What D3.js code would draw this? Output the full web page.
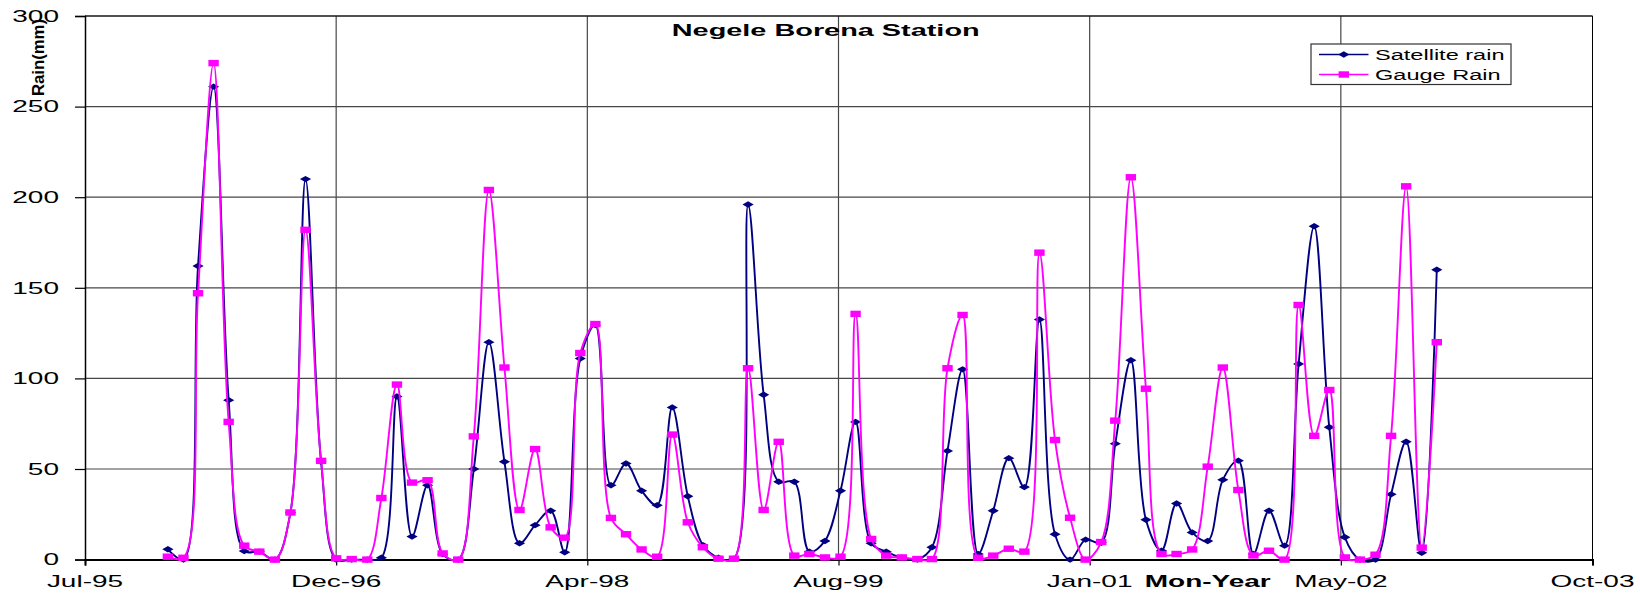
<!DOCTYPE html>
<html>
<head>
<meta charset="utf-8">
<script src="https://cdn.jsdelivr.net/npm/d3@7"></script>
<style>
  html, body { margin: 0; padding: 0; background: #ffffff; }
  svg { display: block; }
  text { font-family: "Liberation Sans", Arial, sans-serif; fill: #000; }
</style>
</head>
<body>
<svg id="chart" width="1640" height="593"></svg>
<script>
// Monthly rainfall, Negele Borena station (mm)
const months = [
  "1996-01","1996-02","1996-03","1996-04","1996-05","1996-06","1996-07","1996-08","1996-09","1996-10","1996-11","1996-12",
  "1997-01","1997-02","1997-03","1997-04","1997-05","1997-06","1997-07","1997-08","1997-09","1997-10","1997-11","1997-12",
  "1998-01","1998-02","1998-03","1998-04","1998-05","1998-06","1998-07","1998-08","1998-09","1998-10","1998-11","1998-12",
  "1999-01","1999-02","1999-03","1999-04","1999-05","1999-06","1999-07","1999-08","1999-09","1999-10","1999-11","1999-12",
  "2000-01","2000-02","2000-03","2000-04","2000-05","2000-06","2000-07","2000-08","2000-09","2000-10","2000-11","2000-12",
  "2001-01","2001-02","2001-03","2001-04","2001-05","2001-06","2001-07","2001-08","2001-09","2001-10","2001-11","2001-12",
  "2002-01","2002-02","2002-03","2002-04","2002-05","2002-06","2002-07","2002-08","2002-09","2002-10","2002-11","2002-12"
];

const satelliteRain = [
  5.7, 0, 162, 261, 88, 4.7, 4.4, 0, 26, 210, 54, 0,
  0, 0, 1, 90, 12.7, 41, 3, 0, 50, 120, 54, 9,
  19, 27, 4, 111, 129.5, 41, 53, 38, 30, 84, 35, 8,
  1, 0.5, 196, 91, 43, 43, 4.4, 10.3, 38, 76, 9, 4.4,
  1, 0, 6.8, 60, 105, 3.1, 27, 56, 40, 132.5, 14, 0,
  11, 9.3, 64, 110, 22, 4.9, 31, 15, 10.3, 44, 54.6, 3.1,
  27, 7.7, 108, 184, 73, 12.3, 0, 0, 36, 65, 3.8, 160
];

const gaugeRain = [
  1.6, 1, 147, 274, 76, 7.7, 4.4, 0, 26, 182, 54.5, 0.7,
  0.3, 0, 34, 96.6, 42.5, 43.8, 3.4, 0, 68, 204, 106, 27.4,
  61, 17.8, 12.1, 114, 130, 23, 14, 5.6, 1.6, 69, 20.6, 6.8,
  0.5, 0.5, 105.6, 27.4, 65, 2.2, 3.1, 1.2, 1.6, 135.6, 11.4, 2.2,
  1.2, 0.3, 0.3, 105.6, 135, 1, 2.2, 6, 4.4, 169.4, 66, 23.1,
  0, 9.7, 76.7, 211, 94.3, 3.1, 3.1, 5.6, 51.3, 106, 38.4, 2.3,
  4.9, 0, 140.5, 68.3, 93.6, 1.2, 0, 2.7, 68.3, 206, 6.6, 120
];

// Date axis: 500-day major unit
const xTickDates = ["1995-07-20","1996-12-01","1998-04-15","1999-08-28","2001-01-09","2002-05-24","2003-10-07"];
const xTickLabels = ["Jul-95","Dec-96","Apr-98","Aug-99","Jan-01","May-02","Oct-03"];
const yTicks = [0, 50, 100, 150, 200, 250, 300];

const seriesNames = ["Satellite rain", "Gauge Rain"];
const seriesColors = ["#000080", "#ff00ff"];

const parseDay = d3.utcParse("%Y-%m-%d");
const parseMonth = d3.utcParse("%Y-%m");

const svg = d3.select("#chart");
const plot = { left: 85, right: 1592.5, top: 16, bottom: 559.6 };
const SX = 1.75; // horizontal text stretch

const x = d3.scaleUtc()
  .domain([parseDay(xTickDates[0]), parseDay(xTickDates[xTickDates.length - 1])])
  .range([plot.left, plot.right]);
const y = d3.scaleLinear().domain([0, 300]).range([plot.bottom, plot.top]);

function label(g, px, py, str, opts) {
  const o = Object.assign({ size: 16, weight: "normal", anchor: "start", sx: SX }, opts || {});
  return g.append("text")
    .attr("transform", `translate(${px},${py}) scale(${o.sx},1)`)
    .attr("text-anchor", o.anchor)
    .attr("font-size", o.size)
    .attr("font-weight", o.weight)
    .text(str);
}

// Gridlines
const grid = svg.append("g");
grid.selectAll("line.h").data(yTicks.slice(1)).enter().append("line")
  .attr("x1", plot.left).attr("x2", plot.right)
  .attr("y1", d => y(d)).attr("y2", d => y(d))
  .attr("stroke", "#474747").attr("stroke-width", 1.2);
grid.selectAll("line.v").data(xTickDates.slice(1, -1)).enter().append("line")
  .attr("x1", d => x(parseDay(d))).attr("x2", d => x(parseDay(d)))
  .attr("y1", plot.top).attr("y2", plot.bottom)
  .attr("stroke", "#474747").attr("stroke-width", 1.2);

// Plot frame
svg.append("line").attr("x1", plot.left).attr("x2", plot.right).attr("y1", plot.top).attr("y2", plot.top)
  .attr("stroke", "#000").attr("stroke-width", 1);
svg.append("line").attr("x1", plot.right).attr("x2", plot.right).attr("y1", plot.top).attr("y2", plot.bottom)
  .attr("stroke", "#000").attr("stroke-width", 1);

// Y axis
const yAxis = svg.append("g").attr("transform", `translate(${plot.left},0)`)
  .call(d3.axisLeft(y).tickValues(yTicks).tickSize(10).tickFormat(""));
yAxis.select(".domain").attr("stroke", "#000").attr("stroke-width", 1.5);
yAxis.selectAll(".tick line").attr("stroke", "#000").attr("stroke-width", 1.2);
const yLab = svg.append("g");
yTicks.forEach(v => label(yLab, 59, y(v) + 5.8, String(v), { anchor: "end" }));

// X axis
const xAxis = svg.append("g").attr("transform", `translate(0,${plot.bottom})`)
  .call(d3.axisBottom(x).tickValues(xTickDates.map(parseDay)).tickSize(6).tickFormat(""));
xAxis.select(".domain").attr("stroke", "#000").attr("stroke-width", 2);
xAxis.selectAll(".tick line").attr("stroke", "#000").attr("stroke-width", 1.2);
const xLab = svg.append("g");
xTickDates.forEach((d, i) => label(xLab, x(parseDay(d)), 587, xTickLabels[i], { anchor: "middle" }));

// Axis titles and chart title
label(svg, 1207.7, 587, "Mon-Year", { anchor: "middle", weight: "bold" });
svg.append("text")
  .attr("transform", "translate(43.5,57.5) rotate(-90)")
  .attr("text-anchor", "middle").attr("font-size", 17).attr("font-weight", "bold")
  .attr("textLength", 77).attr("lengthAdjust", "spacingAndGlyphs")
  .text("Rain(mm)");
label(svg, 825.7, 35.5, "Negele Borena Station", { anchor: "middle", weight: "bold", size: 16.5 });

// Series
const dates = months.map(parseMonth);
const line = d3.line().x(d => x(d.date)).y(d => y(d.value)).curve(d3.curveCatmullRom.alpha(0.5));

function diamond(sel) {
  sel.append("polygon").attr("points", "0,-3.2 5.6,0 0,3.2 -5.6,0");
}
function square(sel) {
  sel.append("rect").attr("x", -5.2).attr("y", -3.2).attr("width", 10.4).attr("height", 6.4);
}

[satelliteRain, gaugeRain].forEach((vals, si) => {
  const pts = vals.map((v, i) => ({ date: dates[i], value: v }));
  const g = svg.append("g");
  g.append("path").datum(pts)
    .attr("d", line).attr("fill", "none")
    .attr("stroke", seriesColors[si]).attr("stroke-width", 1.9)
    .attr("stroke-linejoin", "round");
  const m = g.selectAll("g.mk").data(pts).enter().append("g")
    .attr("transform", d => `translate(${x(d.date)},${y(d.value)})`)
    .attr("fill", seriesColors[si]);
  if (si === 0) diamond(m); else square(m);
});

// Legend
const lg = svg.append("g");
lg.append("rect").attr("x", 1311).attr("y", 44).attr("width", 200).attr("height", 40.5)
  .attr("fill", "#fff").attr("stroke", "#333").attr("stroke-width", 1.2);
seriesNames.forEach((name, i) => {
  const ly = 54.5 + i * 20;
  lg.append("line").attr("x1", 1319).attr("x2", 1368.5).attr("y1", ly).attr("y2", ly)
    .attr("stroke", seriesColors[i]).attr("stroke-width", 1.3);
  const mk = lg.append("g").attr("transform", `translate(1343.8,${ly})`).attr("fill", seriesColors[i]);
  if (i === 0) diamond(mk); else square(mk);
  label(lg, 1375, ly + 5.2, name, { size: 15, sx: 1.57 });
});
</script>
</body>
</html>
